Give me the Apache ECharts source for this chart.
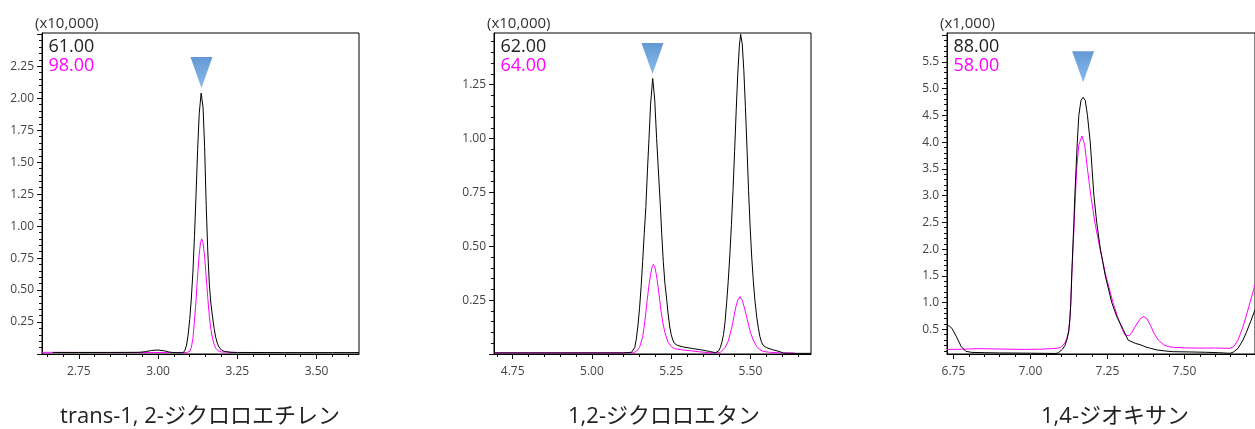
<!DOCTYPE html>
<html><head><meta charset="utf-8">
<script src="https://cdn.jsdelivr.net/npm/echarts@6/dist/echarts.min.js"></script>
<style>html,body{margin:0;padding:0;background:#fff}#c{width:1255px;height:429px}</style>
</head><body><div id="c"></div>
<script>
// ---------- Panel 1: trans-1,2-ジクロロエチレン ----------
const title1 = 'trans-1, 2-ジクロロエチレン';
const unit1 = '(x10,000)';
const ionLabels1 = ['61.00', '98.00'];
const xTicks1 = [2.75, 3.00, 3.25, 3.50];
const yTicks1 = [0.25, 0.50, 0.75, 1.00, 1.25, 1.50, 1.75, 2.00, 2.25];
const marker1 = [[3.137, 2.08]];
const ion61 = [[2.668,0.012],[2.75,0.012],[2.85,0.012],[2.94,0.013],[2.96,0.018],[2.98,0.028],[3.00,0.031],[3.02,0.025],[3.035,0.015],[3.05,0.011],[3.07,0.01],[3.08,0.012],[3.085,0.03],[3.09,0.07],[3.095,0.15],[3.10,0.27],[3.105,0.43],[3.11,0.64],[3.115,0.92],[3.12,1.25],[3.125,1.60],[3.13,1.88],[3.136,2.04],[3.142,1.93],[3.147,1.62],[3.152,1.16],[3.157,0.80],[3.162,0.54],[3.167,0.39],[3.172,0.29],[3.177,0.20],[3.182,0.13],[3.187,0.085],[3.192,0.055],[3.20,0.032],[3.21,0.02],[3.23,0.013],[3.25,0.012],[3.40,0.011],[3.55,0.011],[3.634,0.011]];
const ion98 = [[2.634,0.013],[2.75,0.012],[2.90,0.012],[3.00,0.012],[3.09,0.012],[3.10,0.02],[3.105,0.05],[3.11,0.12],[3.115,0.26],[3.12,0.42],[3.125,0.62],[3.13,0.78],[3.134,0.87],[3.138,0.90],[3.142,0.87],[3.147,0.76],[3.152,0.60],[3.157,0.44],[3.162,0.29],[3.167,0.19],[3.172,0.12],[3.177,0.075],[3.182,0.045],[3.19,0.025],[3.20,0.016],[3.246,0.012]];

// ---------- Panel 2: 1,2-ジクロロエタン ----------
const title2 = '1,2-ジクロロエタン';
const unit2 = '(x10,000)';
const ionLabels2 = ['62.00', '64.00'];
const xTicks2 = [4.75, 5.00, 5.25, 5.50];
const yTicks2 = [0.25, 0.50, 0.75, 1.00, 1.25];
const marker2 = [[5.191, 1.30]];
const ion62 = [[4.691,0.005],[4.80,0.005],[4.90,0.005],[5.00,0.005],[5.10,0.005],[5.125,0.008],[5.135,0.03],[5.14,0.07],[5.145,0.13],[5.15,0.21],[5.155,0.31],[5.16,0.43],[5.165,0.56],[5.17,0.68],[5.175,0.85],[5.18,1.00],[5.185,1.16],[5.1916,1.279],[5.198,1.18],[5.204,1.00],[5.21,0.84],[5.215,0.71],[5.22,0.56],[5.225,0.43],[5.23,0.33],[5.236,0.25],[5.24,0.19],[5.245,0.13],[5.25,0.09],[5.255,0.065],[5.26,0.05],[5.27,0.04],[5.29,0.032],[5.32,0.025],[5.35,0.018],[5.37,0.012],[5.39,0.006],[5.394,0.006],[5.40,0.015],[5.405,0.03],[5.41,0.055],[5.415,0.09],[5.42,0.15],[5.425,0.24],[5.43,0.34],[5.435,0.46],[5.44,0.60],[5.445,0.76],[5.45,0.94],[5.455,1.13],[5.46,1.30],[5.465,1.43],[5.469,1.484],[5.474,1.44],[5.479,1.32],[5.484,1.15],[5.489,0.96],[5.494,0.76],[5.499,0.59],[5.504,0.45],[5.509,0.34],[5.514,0.25],[5.52,0.17],[5.525,0.12],[5.53,0.08],[5.535,0.055],[5.54,0.04],[5.55,0.03],[5.57,0.02],[5.59,0.012],[5.605,0.004],[5.64,0.003],[5.691,0.003]];
const ion64 = [[4.691,0.006],[4.85,0.006],[5.00,0.006],[5.13,0.006],[5.14,0.012],[5.15,0.03],[5.16,0.08],[5.165,0.13],[5.17,0.19],[5.175,0.26],[5.18,0.32],[5.185,0.37],[5.19,0.405],[5.194,0.416],[5.198,0.405],[5.203,0.37],[5.208,0.32],[5.213,0.26],[5.218,0.20],[5.223,0.15],[5.23,0.10],[5.24,0.055],[5.25,0.035],[5.26,0.025],[5.28,0.02],[5.31,0.015],[5.34,0.01],[5.37,0.006],[5.404,0.006],[5.41,0.012],[5.42,0.03],[5.43,0.06],[5.44,0.115],[5.445,0.15],[5.45,0.19],[5.455,0.225],[5.46,0.25],[5.467,0.266],[5.474,0.25],[5.48,0.22],[5.485,0.19],[5.49,0.16],[5.495,0.13],[5.50,0.10],[5.51,0.06],[5.52,0.035],[5.53,0.02],[5.54,0.012],[5.56,0.008],[5.60,0.005],[5.64,0.004]];

// ---------- Panel 3: 1,4-ジオキサン ----------
const title3 = '1,4-ジオキサン';
const unit3 = '(x1,000)';
const ionLabels3 = ['88.00', '58.00'];
const xTicks3 = [6.75, 7.00, 7.25, 7.50];
const yTicks3 = [0.5, 1.0, 1.5, 2.0, 2.5, 3.0, 3.5, 4.0, 4.5, 5.0, 5.5];
const marker3 = [[7.171, 5.12]];
const ion88 = [[6.729,0.58],[6.737,0.56],[6.745,0.52],[6.76,0.36],[6.775,0.18],[6.79,0.09],[6.81,0.07],[6.85,0.065],[6.90,0.06],[6.95,0.058],[7.00,0.055],[7.05,0.052],[7.08,0.05],[7.09,0.06],[7.096,0.083],[7.104,0.13],[7.112,0.20],[7.118,0.30],[7.124,0.45],[7.128,0.70],[7.131,1.0],[7.134,1.5],[7.138,2.1],[7.141,2.5],[7.144,3.0],[7.148,3.5],[7.152,4.0],[7.157,4.5],[7.164,4.78],[7.171,4.838],[7.178,4.78],[7.185,4.5],[7.194,4.0],[7.200,3.5],[7.206,3.0],[7.215,2.5],[7.227,2.0],[7.243,1.5],[7.264,1.0],[7.28,0.74],[7.301,0.5],[7.317,0.30],[7.34,0.24],[7.359,0.208],[7.375,0.17],[7.39,0.146],[7.411,0.115],[7.44,0.095],[7.464,0.083],[7.52,0.078],[7.569,0.072],[7.61,0.065],[7.648,0.053],[7.66,0.08],[7.674,0.146],[7.69,0.30],[7.70,0.43],[7.715,0.65],[7.73,0.88]];
const ion58 = [[6.729,0.125],[6.78,0.13],[6.83,0.14],[6.88,0.135],[6.93,0.13],[6.98,0.125],[7.03,0.13],[7.07,0.14],[7.09,0.15],[7.10,0.17],[7.106,0.20],[7.112,0.25],[7.118,0.33],[7.124,0.47],[7.128,0.70],[7.131,1.0],[7.134,1.5],[7.138,2.0],[7.142,2.5],[7.146,3.0],[7.150,3.5],[7.157,3.95],[7.167,4.115],[7.176,3.95],[7.185,3.5],[7.196,3.0],[7.209,2.5],[7.226,2.0],[7.245,1.5],[7.268,1.0],[7.285,0.70],[7.298,0.50],[7.306,0.40],[7.312,0.365],[7.32,0.38],[7.33,0.45],[7.345,0.60],[7.358,0.71],[7.368,0.74],[7.378,0.70],[7.39,0.57],[7.401,0.43],[7.415,0.30],[7.433,0.21],[7.45,0.175],[7.464,0.165],[7.50,0.155],[7.55,0.15],[7.60,0.152],[7.648,0.146],[7.66,0.18],[7.674,0.30],[7.69,0.55],[7.70,0.74],[7.715,1.05],[7.73,1.35]];

// ---------- layout / style ----------
const panels = [
  {left:42,  xMin:2.634, xMax:3.634, yMin:0,    yMax:2.51, xTicks:xTicks1, yTicks:yTicks1, yMajor:0.25, yMinor:0.05, yDig:2, unit:unit1, ions:ionLabels1, black:ion61, pink:ion98, marker:marker1, title:title1, titleX:200},
  {left:494, xMin:4.691, xMax:5.691, yMin:0,    yMax:1.49, xTicks:xTicks2, yTicks:yTicks2, yMajor:0.25, yMinor:0.05, yDig:2, unit:unit2, ions:ionLabels2, black:ion62, pink:ion64, marker:marker2, title:title2, titleX:664},
  {left:947, xMin:6.729, xMax:7.729, yMin:0.04, yMax:6.04, xTicks:xTicks3, yTicks:yTicks3, yMajor:0.5,  yMinor:0.1,  yDig:1, unit:unit3, ions:ionLabels3, black:ion88, pink:ion58, marker:marker3, title:title3, titleX:1115}
];
const GT = 33, GW = 317, GH = 321;
const numFont = "'Open Sans', 'Noto Sans', sans-serif";
const TICK = '#111';

function steps(min, max, step) {
  const out = [];
  for (let k = Math.ceil(min / step - 1e-9); k * step <= max + 1e-9; k++) out.push(+(k * step).toFixed(4));
  return out;
}

const grid = [], xAxis = [], yAxis = [], series = [], graphic = [];
panels.forEach((p, i) => {
  grid.push({left:p.left, top:GT, width:GW, height:GH, show:true, borderColor:'#000', borderWidth:1, backgroundColor:'transparent', containLabel:false});
  // primary axes: every (minor) tick, labels
  xAxis.push({gridIndex:i, type:'value', min:p.xMin, max:p.xMax, position:'bottom',
    axisLine:{show:true, onZero:false, lineStyle:{color:'#000', width:1}},
    axisTick:{show:true, length:3, customValues:steps(p.xMin, p.xMax, 0.05), lineStyle:{color:TICK}},
    axisLabel:{show:true, customValues:p.xTicks, formatter:v => v.toFixed(2), margin:12, fontSize:12, color:'#444', fontFamily:numFont},
    splitLine:{show:false}});
  yAxis.push({gridIndex:i, type:'value', min:p.yMin, max:p.yMax, position:'left',
    axisLine:{show:true, onZero:false, lineStyle:{color:'#000', width:1}},
    axisTick:{show:true, length:3, customValues:steps(p.yMin, p.yMax, p.yMinor), lineStyle:{color:TICK}},
    axisLabel:{show:true, customValues:p.yTicks, formatter:v => v.toFixed(p.yDig), margin:8, fontSize:12, color:'#444', fontFamily:numFont},
    splitLine:{show:false}});
  // overlay axes: longer major ticks only
  xAxis.push({gridIndex:i, type:'value', min:p.xMin, max:p.xMax, position:'bottom',
    axisLine:{show:false, onZero:false},
    axisTick:{show:true, length:5, customValues:steps(p.xMin, p.xMax, 0.25), lineStyle:{color:TICK}},
    axisLabel:{show:false}, splitLine:{show:false}});
  yAxis.push({gridIndex:i, type:'value', min:p.yMin, max:p.yMax, position:'left',
    axisLine:{show:false, onZero:false},
    axisTick:{show:true, length:5, customValues:steps(p.yMin, p.yMax, p.yMajor), lineStyle:{color:TICK}},
    axisLabel:{show:false}, splitLine:{show:false}});
  const ax = i * 2;
  series.push({type:'line', xAxisIndex:ax, yAxisIndex:ax, data:p.pink, showSymbol:false, silent:true, animation:false,
    lineStyle:{color:'#ff00ff', width:1}, itemStyle:{color:'#ff00ff'}, z:2});
  series.push({type:'line', xAxisIndex:ax, yAxisIndex:ax, data:p.black, showSymbol:false, silent:true, animation:false,
    lineStyle:{color:'#000', width:1}, itemStyle:{color:'#000'}, z:3});
  series.push({type:'scatter', xAxisIndex:ax, yAxisIndex:ax, data:p.marker, silent:true, animation:false,
    symbol:'path://M0,0 L22,0 L11,31 Z', symbolSize:[22, 31], symbolOffset:[0, '-50%'],
    itemStyle:{color:new echarts.graphic.LinearGradient(0, 0, 0, 1, [{offset:0, color:'#3d7fca'}, {offset:1, color:'#6aaae6'}])}, z:4});
  graphic.push({type:'text', x:p.left - 7, y:23.5, style:{text:p.unit, font:"15px " + numFont, fill:'#333', textVerticalAlign:'middle'}});
  graphic.push({type:'text', x:p.left + 6.5, y:47, style:{text:p.ions[0], font:"18px " + numFont, fill:'#222', textVerticalAlign:'middle'}, z:10});
  graphic.push({type:'text', x:p.left + 6.5, y:65.5, style:{text:p.ions[1], font:"18px " + numFont, fill:'#ff00ff', textVerticalAlign:'middle'}, z:10});
  graphic.push({type:'text', x:p.titleX, y:417, style:{text:p.title, font:"22px 'Open Sans', 'Noto Sans CJK JP', sans-serif", fill:'#222', textAlign:'center', textVerticalAlign:'middle'}});
});

const chart = echarts.init(document.getElementById('c'), null, {renderer:'canvas'});
chart.setOption({animation:false, backgroundColor:'#fff', grid, xAxis, yAxis, series, graphic});
</script>
</body></html>
